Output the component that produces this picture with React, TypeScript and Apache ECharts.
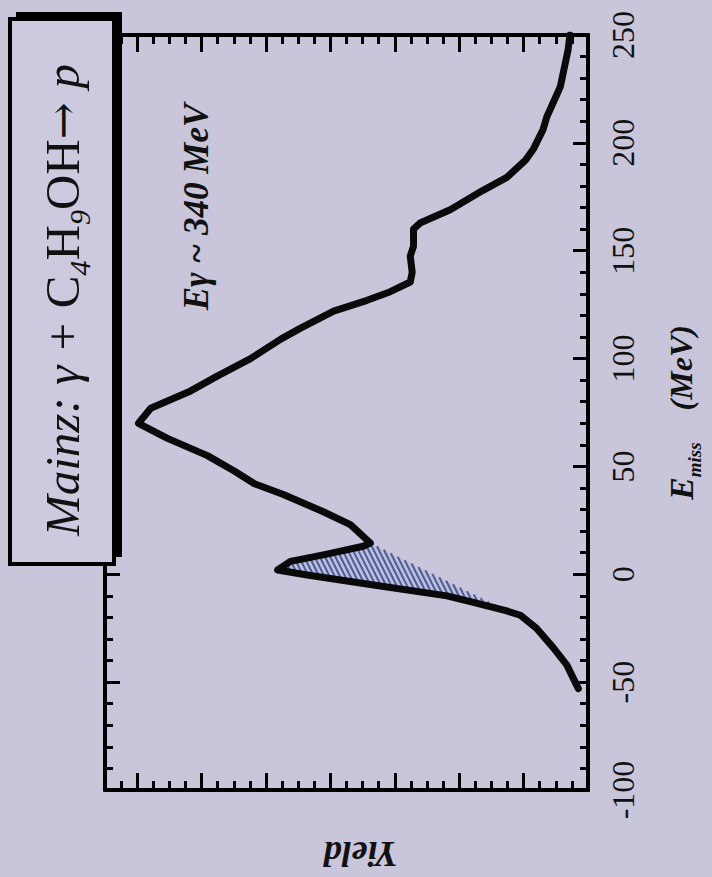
import React, { useEffect, useRef } from "react";
import * as echarts from "echarts";

// Missing energy (MeV) along the curve and the yield read at each point
const eMiss = [-53, -42, -34, -25, -19, -17, -13, -10, -5, -0.3, 2, 6, 9, 13, 14.5, 23, 29, 37, 42, 48, 55, 63, 70, 77, 85, 92, 100, 109, 114, 122, 127, 131, 135.5, 140, 147.5, 152, 160, 163, 169, 178, 184, 192, 197, 206, 212, 226, 243, 250];
const yieldVals = [15, 33, 54, 80, 105, 126, 178, 219, 333, 436, 482, 462, 411, 349, 338, 369, 411, 473, 518, 550, 591, 653, 698, 679, 617, 575, 524, 477, 447, 395, 343, 307, 276, 273, 276, 271, 271, 260, 214, 163, 126, 97, 85, 70, 64, 43, 31, 28];

// Hatched peak (bound by the curve and a straight background line)
const hatchE = [-17, -13, -10, -5, -0.3, 2, 6, 9, 13, 14.5];
const hatchYield = [126, 178, 219, 333, 436, 482, 462, 411, 349, 338];

const eMin = -100;
const eMax = 250;
const yieldMax = 750;

const SERIF = "'Liberation Serif', 'Times New Roman', serif";
const BG = "#c9c5da";

export default function App() {
  const ref = useRef<HTMLDivElement>(null);
  useEffect(() => {
    if (!ref.current) return;
    const chart = echarts.init(ref.current, undefined, { renderer: "svg" });
    const tickLine = { color: "#000", width: 3 };
    const axisLine = { show: true, onZero: false, lineStyle: { color: "#000", width: 4 } };
    const xBase = (position: string, interval: number, len: number, minor: boolean, extra: any = {}) => ({
      type: "value",
      position,
      gridIndex: 0,
      min: 0,
      max: yieldMax,
      inverse: true,
      interval,
      axisLine,
      axisTick: { show: true, inside: true, length: len, lineStyle: tickLine },
      minorTick: { show: minor, splitNumber: 2, length: len, lineStyle: tickLine },
      axisLabel: { show: false },
      splitLine: { show: false },
      minorSplitLine: { show: false },
      ...extra,
    });
    const yBase = (position: string, extra: any = {}) => ({
      type: "value",
      position,
      min: eMin,
      max: eMax,
      interval: 50,
      axisLine,
      axisTick: { show: true, inside: true, length: 15, lineStyle: tickLine },
      minorTick: { show: true, splitNumber: 5, length: 8, lineStyle: tickLine },
      axisLabel: { show: false },
      splitLine: { show: false },
      minorSplitLine: { show: false },
      ...extra,
    });

    const option: any = {
      animation: false,
      backgroundColor: BG,
      grid: { left: 105, right: 124, top: 35, bottom: 84, containLabel: false },
      xAxis: [
        xBase("bottom", 50, 9, true, {
          name: "Yield",
          nameLocation: "middle",
          nameRotate: 180,
          nameGap: 46,
          nameTextStyle: { fontFamily: SERIF, fontSize: 36, fontWeight: "bold", fontStyle: "italic", color: "#111", padding: [0, 28, 0, 0] },
        }),
        xBase("bottom", 100, 17, false),
        xBase("top", 50, 9, true),
        xBase("top", 100, 17, false),
      ],
      yAxis: [
        yBase("right", {
          axisLabel: {
            show: true,
            rotate: 90,
            margin: 19,
            fontFamily: SERIF,
            fontSize: 32,
            color: "#111",
            showMinLabel: true,
            showMaxLabel: true,
          },
          name: "{e|E}{s|miss}{u|    (MeV)}",
          nameLocation: "middle",
          nameRotate: 90,
          nameGap: 70,
          nameTextStyle: {
            rich: {
              e: { fontFamily: SERIF, fontSize: 34, fontWeight: "bold", fontStyle: "italic", color: "#111", lineHeight: 46, verticalAlign: "middle" },
              s: { fontFamily: SERIF, fontSize: 19, fontWeight: "bold", fontStyle: "italic", color: "#111", lineHeight: 46, verticalAlign: "bottom" },
              u: { fontFamily: SERIF, fontSize: 32, fontWeight: "bold", fontStyle: "italic", color: "#111", lineHeight: 46, verticalAlign: "middle" },
            },
          },
        }),
        yBase("left"),
      ],
      graphic: [
        { type: "rect", z: 100, shape: { x: 16, y: 12, width: 106, height: 545 }, style: { fill: "#000" } },
        { type: "rect", z: 101, shape: { x: 10, y: 19, width: 104, height: 545 }, style: { fill: "#cdc9de", stroke: "#000", lineWidth: 4 } },
        {
          type: "text",
          z: 102,
          x: 62,
          y: 300,
          rotation: Math.PI / 2,
          style: {
            text: "{i|Mainz: γ + }{n|C}{s|4}{n|H}{s|9}{n|OH}{a|→ }{i|p}",
            align: "center",
            verticalAlign: "middle",
            rich: {
              i: { fontFamily: SERIF, fontSize: 49, fontStyle: "italic", fill: "#111", lineHeight: 64, verticalAlign: "middle" },
              n: { fontFamily: SERIF, fontSize: 49, fill: "#111", lineHeight: 64, verticalAlign: "middle" },
              a: { fontFamily: "'DejaVu Serif', serif", fontSize: 44, fill: "#111", lineHeight: 64, verticalAlign: "middle" },
              s: { fontFamily: SERIF, fontSize: 30, fontStyle: "italic", fill: "#111", lineHeight: 64, verticalAlign: "bottom" },
            },
          },
        },
        {
          type: "text",
          z: 102,
          x: 196,
          y: 207,
          rotation: Math.PI / 2,
          style: {
            text: "Eγ ~ 340 MeV",
            align: "center",
            verticalAlign: "middle",
            fontFamily: SERIF,
            fontSize: 35,
            fontWeight: "bold",
            fontStyle: "italic",
            fill: "#111",
          },
        },
      ],
      series: [
        {
          type: "custom",
          xAxisIndex: 0,
          yAxisIndex: 0,
          z: 1,
          clip: false,
          data: [[hatchYield[0], hatchE[0]]],
          renderItem: (params: any, api: any) => {
            const pts: number[][] = hatchE.map((e, i) => api.coord([hatchYield[i], e]));
            const children: any[] = [
              { type: "polygon", shape: { points: pts }, style: { fill: "#bcc0e0", stroke: "none" } },
            ];
            const k = 0.5; // dx per dy
            let minC = Infinity;
            let maxC = -Infinity;
            pts.forEach((p) => {
              const c = p[0] - k * p[1];
              minC = Math.min(minC, c);
              maxC = Math.max(maxC, c);
            });
            const n = pts.length;
            for (let c = minC + 2; c < maxC; c += 5.2) {
              const ys: number[] = [];
              for (let i = 0; i < n; i++) {
                const p1 = pts[i];
                const p2 = pts[(i + 1) % n];
                const dx = p2[0] - p1[0];
                const dy = p2[1] - p1[1];
                const den = dx - k * dy;
                if (Math.abs(den) < 1e-9) continue;
                const t = (c + k * p1[1] - p1[0]) / den;
                if (t >= 0 && t < 1) ys.push(p1[1] + t * dy);
              }
              ys.sort((a, b) => a - b);
              for (let j = 0; j + 1 < ys.length; j += 2) {
                children.push({
                  type: "line",
                  shape: { x1: c + k * ys[j], y1: ys[j], x2: c + k * ys[j + 1], y2: ys[j + 1] },
                  style: { stroke: "#4f5c92", lineWidth: 2 },
                });
              }
            }
            return { type: "group", children };
          },
        },
        {
          type: "line",
          xAxisIndex: 0,
          yAxisIndex: 0,
          z: 5,
          showSymbol: false,
          symbol: "none",
          data: eMiss.map((e, i) => [yieldVals[i], e]),
          lineStyle: { color: "#0a0a0a", width: 7, join: "round", cap: "round" },
        },
      ],
    };
    chart.setOption(option);
    return () => chart.dispose();
  }, []);
  return (
    <div
      ref={ref}
      style={{ position: "fixed", left: 0, top: 0, width: 712, height: 877, background: BG }}
    />
  );
}
